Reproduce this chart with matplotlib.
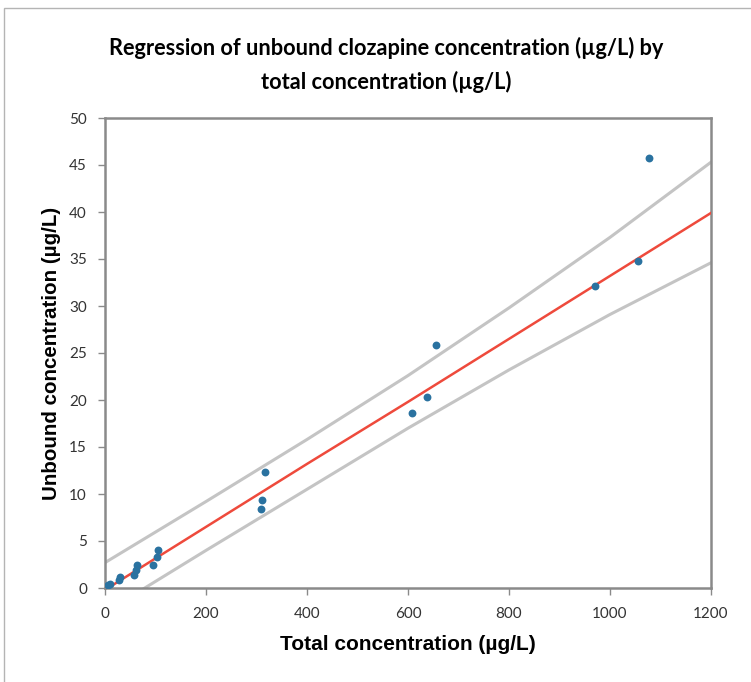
import matplotlib.pyplot as plt
from matplotlib.patches import Rectangle

total = [6, 10, 28, 30, 57, 61, 63, 96, 102, 104, 308, 310, 317, 608, 637, 655, 970, 1056, 1078]
unbound = [0.3, 0.45, 0.8, 1.2, 1.4, 1.9, 2.45, 2.45, 3.25, 4.0, 8.4, 9.4, 12.3, 18.65, 20.3, 25.8, 32.1, 34.75, 45.7]

# regression line and prediction band, read at these x positions
band_x = [0, 200, 400, 600, 800, 1000, 1200]
fit_y = [-0.2, 6.5, 13.2, 19.8, 26.5, 33.2, 39.9]
upper_y = [2.7, 9.2, 15.8, 22.6, 29.8, 37.3, 45.3]
lower_y = [-2.6, 4.0, 10.5, 17.0, 23.2, 29.1, 34.6]

x_ticks = [0, 200, 400, 600, 800, 1000, 1200]
y_ticks = [0, 5, 10, 15, 20, 25, 30, 35, 40, 45, 50]

fig = plt.figure(figsize=(7.51, 6.82), dpi=100)
ax = fig.add_axes([105 / 751, 1 - 588 / 682, 606 / 751, 470 / 682])

# outer chart frame
fig.patches.append(Rectangle((4 / 751, -0.1), 1.2, 1 - 8 / 682 + 0.1,
                             transform=fig.transFigure, fill=False,
                             edgecolor="#b4b4b4", linewidth=1))

ax.plot(band_x, upper_y, color="#c4c4c4", linewidth=2.2, zorder=2)
ax.plot(band_x, lower_y, color="#c4c4c4", linewidth=2.2, zorder=2)
ax.plot(band_x, fit_y, color="#ee4a3c", linewidth=1.8, zorder=3)
ax.scatter(total, unbound, s=32, color="#2a72a0", zorder=4, linewidths=0)

ax.set_xlim(0, 1200)
ax.set_ylim(0, 50)
ax.set_xticks(x_ticks)
ax.set_yticks(y_ticks)

for s in ax.spines.values():
    s.set_color("#8a8a8a")
    s.set_linewidth(1.8)
ax.tick_params(direction="out", length=5, width=1, color="#8a8a8a",
               labelsize=11, labelcolor="#333333")
ax.tick_params(axis="x", pad=9)
ax.tick_params(axis="y", pad=8)
for lab in ax.get_xticklabels() + ax.get_yticklabels():
    lab.set_fontfamily("Lato")

ax.set_xlabel("Total concentration (µg/L)", fontsize=15, fontweight="bold",
              family="Liberation Sans", labelpad=10)
ax.set_ylabel("Unbound concentration (µg/L)", fontsize=14.8, fontweight="bold",
              family="Liberation Sans", labelpad=6)

fig.text(386 / 751, 1 - 65 / 682,
         "Regression of unbound clozapine concentration (µg/L) by\ntotal concentration (µg/L)",
         ha="center", va="center", fontsize=15.7, fontweight="bold",
         family="Lato", linespacing=1.65)

fig.savefig("out.png", dpi=100)
